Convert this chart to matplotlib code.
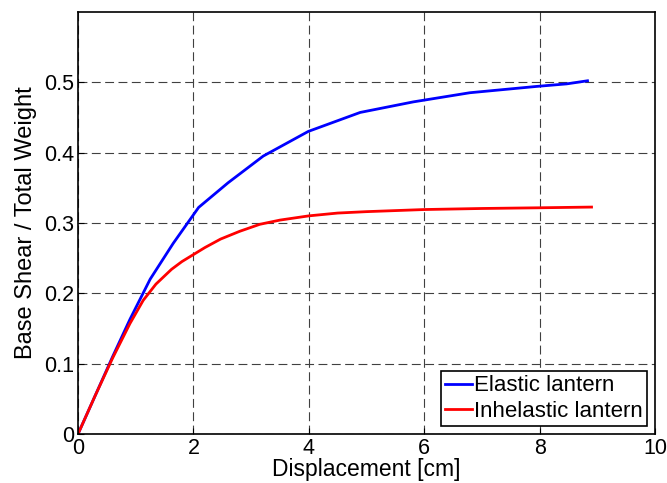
import numpy as np
import matplotlib.pyplot as plt

plt.rcParams['font.family'] = ['Liberation Sans', 'DejaVu Sans']

# displacement [cm] / normalized base shear
elastic_x = [0, 0.6, 0.9, 1.25, 1.65, 2.09, 2.6, 3.21, 3.99, 4.89, 5.81, 6.79, 7.95, 8.47, 8.83]
elastic_y = [0, 0.110, 0.163, 0.220, 0.271, 0.322, 0.357, 0.395, 0.430, 0.457, 0.472, 0.485, 0.494, 0.4976, 0.502]

inelastic_x = [0, 0.3, 0.6, 0.9, 1.13, 1.35, 1.62, 1.8, 2.0, 2.2, 2.47, 2.8, 3.15, 3.5, 4.0, 4.5, 5.0, 6.0, 7.0, 8.0, 8.9]
inelastic_y = [0, 0.055, 0.108, 0.157, 0.190, 0.213, 0.234, 0.245, 0.255, 0.265, 0.277, 0.288, 0.298, 0.304, 0.310, 0.314, 0.316, 0.319, 0.3205, 0.3215, 0.3225]

xticks = [0, 2, 4, 6, 8, 10]
yticks = [0, 0.1, 0.2, 0.3, 0.4, 0.5]

fig = plt.figure(figsize=(6.67, 4.83), dpi=100)
ax = fig.add_axes([0.117, 0.1015, 0.865, 0.874])

ax.plot(elastic_x, elastic_y, color='#0000ff', lw=2, label='Elastic lantern')
ax.plot(inelastic_x, inelastic_y, color='#ff0000', lw=2, label='Inhelastic lantern')

ax.set_xlim(0, 10)
ax.set_ylim(0, 0.6)
ax.set_xticks(xticks)
ax.set_yticks(yticks)
ax.set_yticklabels(['0', '0.1', '0.2', '0.3', '0.4', '0.5'])
ax.tick_params(direction='in', labelsize=15.5, length=4)
ax.tick_params(axis='x', pad=3)
ax.tick_params(axis='y', pad=3)
ax.grid(True, color='#404040', linestyle=(0, (8, 4)), linewidth=0.8)

for s in ax.spines.values():
    s.set_linewidth(1.2)

ax.set_xlabel('Displacement [cm]', fontsize=16.5, labelpad=-1)
ax.set_ylabel('Base Shear / Total Weight', fontsize=17, labelpad=5)

leg = ax.legend(loc='lower right', fontsize=16, fancybox=False, framealpha=1,
                edgecolor='black', handlelength=1.2, handletextpad=0.1,
                borderpad=0.2, labelspacing=0.2, borderaxespad=0.35)
leg.get_frame().set_linewidth(1.2)

fig.savefig('out.png', dpi=100)
